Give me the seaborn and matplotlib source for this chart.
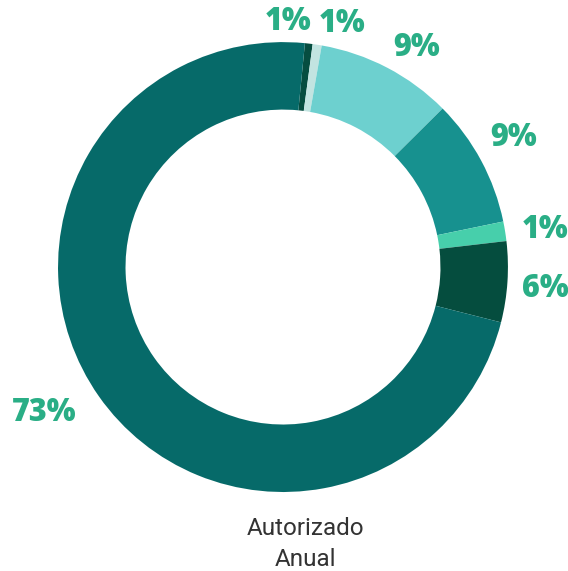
import numpy as np
import matplotlib
matplotlib.use("Agg")
import matplotlib.pyplot as plt
import seaborn as sns

# slice shares (%), clockwise from the top
values = [0.55, 0.65, 9.8, 9.2, 1.4, 5.8, 72.6]
labels = ["1%", "1%", "9%", "9%", "1%", "6%", "73%"]
colors = ["#064d40", "#c2e4e1", "#6dd0cf", "#17918f", "#47cfab", "#054d3e", "#066a69"]
center_text = "Autorizado\nAnual"

sns.set_theme(style="white")
plt.rcParams['font.family'] = ['Roboto', 'DejaVu Sans']

fig = plt.figure(figsize=(5.68, 5.71), dpi=100)
ax = fig.add_axes([0, 0, 1, 1])

wedges, _ = ax.pie(values, colors=colors, startangle=84.4, counterclock=False,
                   radius=1.0, wedgeprops=dict(width=0.30, linewidth=0))

# label positions: radial distance and angle nudges so the small ones don't collide
label_dist = [1.10, 1.12, 1.15, 1.18, 1.18, 1.17, 1.24]
angle_shift = [5.5, -4.8, -3.5, 1.5, -0.6, -0.6, -4.0]
for w, lab, d, s in zip(wedges, labels, label_dist, angle_shift):
    ang = np.deg2rad((w.theta1 + w.theta2) / 2 + s)
    ax.text(d * np.cos(ang), d * np.sin(ang) - 0.01, lab, ha="center", va="center",
            fontsize=22, fontweight=800, color="#2aae86", family="Open Sans")

ax.text(0.10, -1.232, center_text, ha="center", va="center", fontsize=17.5,
        color="#333333", linespacing=1.45)

ax.set_xlim(-1.258, 1.267)
ax.set_ylim(-1.351, 1.187)
ax.set_aspect("equal")
ax.axis("off")

fig.savefig("out.png", dpi=100)
